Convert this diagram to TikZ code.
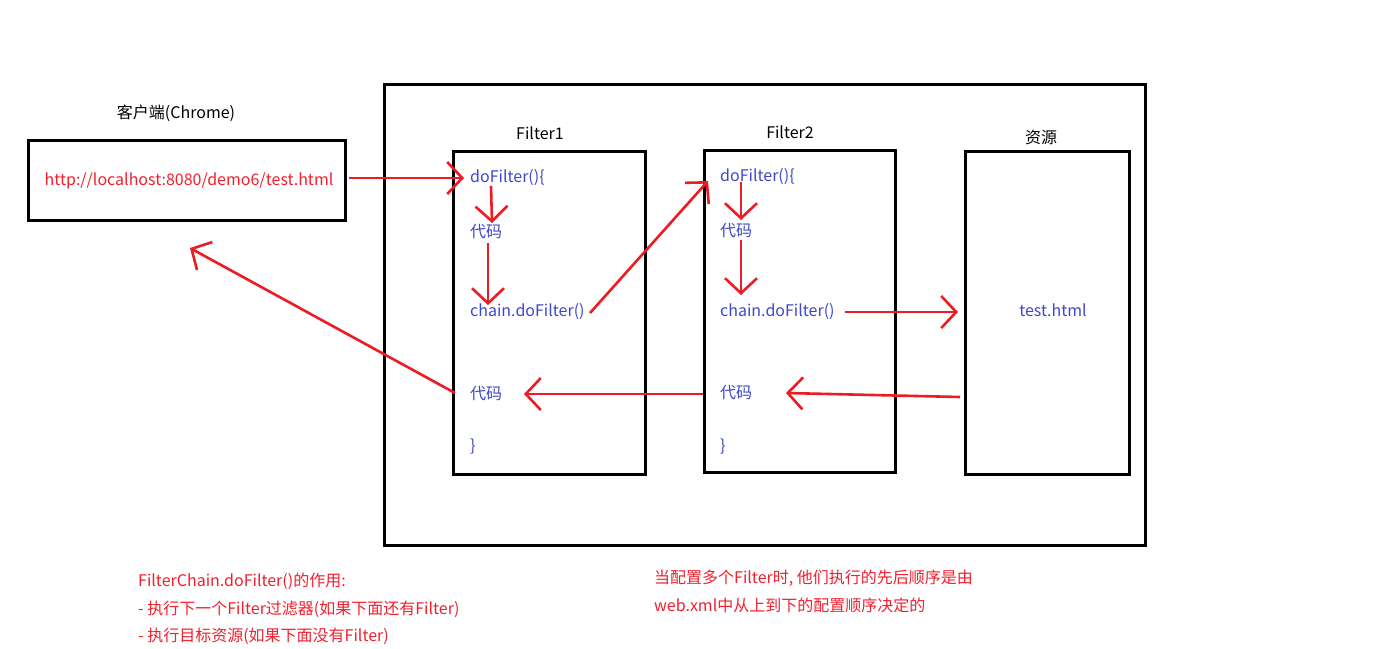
\documentclass[tikz,border=0pt]{standalone}
\usepackage{fontspec}
\setmainfont{Noto Sans CJK SC}
\usetikzlibrary{arrows.meta}
\definecolor{pred}{HTML}{ED1C24}
\definecolor{tred}{HTML}{F2202E}
\definecolor{tblue}{HTML}{3F48CC}
\tikzset{
  box/.style={draw=black, line width=3pt},
  code/.style={anchor=west, inner sep=0pt, text=tblue, font=\fontsize{16}{19}\selectfont},
  lbl/.style={inner sep=0pt, text=black, font=\fontsize{16}{19}\selectfont},
  note/.style={anchor=west, inner sep=0pt, text=tred, font=\fontsize{16}{19}\selectfont},
  arr/.style={draw=pred, line width=2.6pt, -{Straight Barb[length=15pt,width=32pt,line width=2.6pt]}},
}
\begin{document}
\begin{tikzpicture}[x=1pt,y=-1pt]
\useasboundingbox (0,0) rectangle (1381,648);
\fill[white] (0,0) rectangle (1381,648);
% boxes
\draw[box] (384,84) rectangle (1145,545);
\draw[box] (28,140) rectangle (345,220);
\draw[box] (453,151) rectangle (645,474);
\draw[box] (704,150) rectangle (895,472);
\draw[box] (965,151) rectangle (1129,474);
% titles
\node[lbl] (client) at (176,113) {客户端(Chrome)};
\node[lbl] (f1) at (540,133) {Filter1};
\node[lbl] (f2) at (790,132) {Filter2};
\node[lbl] (res) at (1041,137) {资源};
\node[inner sep=0pt, text=tred, font=\fontsize{16}{19}\selectfont] (url) at (189,181) {http://localhost:8080/demo6/test.html};
% filter1 code
\node[code] (a1) at (470,178) {doFilter()\{};
\node[code] (a2) at (470,232) {代码};
\node[code] (a3) at (470,312) {chain.doFilter()};
\node[code] (a4) at (470,394) {代码};
\node[code] (a5) at (470,447) {\}};
% filter2 code
\node[code] (b1) at (720,177) {doFilter()\{};
\node[code] (b2) at (720,231) {代码};
\node[code] (b3) at (720,312) {chain.doFilter()};
\node[code] (b4) at (720,393) {代码};
\node[code] (b5) at (720,447) {\}};
\node[inner sep=0pt, text=tblue, font=\fontsize{16}{19}\selectfont] (page) at (1053,310) {test.html};
% notes
\node[note] (n1) at (138,581) {FilterChain.doFilter()的作用:};
\node[note] (n2) at (138,609) {- 执行下一个Filter过滤器(如果下面还有Filter)};
\node[note] (n3) at (138,636) {- 执行目标资源(如果下面没有Filter)};
\node[note] (m1) at (654,578) {当配置多个Filter时, 他们执行的先后顺序是由};
\node[note] (m2) at (654,605) {web.xml中从上到下的配置顺序决定的};
% arrow end points
\coordinate (p1s) at (349,178); \coordinate (p1e) at (464,178);
\coordinate (p2s) at (491,186); \coordinate (p2e) at (492,223);
\coordinate (p3s) at (488,243); \coordinate (p3e) at (488,305);
\coordinate (p4s) at (590,313); \coordinate (p4e) at (708,181);
\coordinate (p5s) at (741,182); \coordinate (p5e) at (741,220);
\coordinate (p6s) at (741,240); \coordinate (p6e) at (741,295);
\coordinate (p7s) at (845,312); \coordinate (p7e) at (958,312);
\coordinate (p8s) at (960,397); \coordinate (p8e) at (786,393);
\coordinate (p9s) at (703,394); \coordinate (p9e) at (524,394);
\coordinate (p10s) at (455,393); \coordinate (p10e) at (190,248);
\draw[arr] (p1s) -- (p1e);
\draw[arr] (p2s) -- (p2e);
\draw[arr] (p3s) -- (p3e);
\draw[arr] (p4s) -- (p4e);
\draw[arr] (p5s) -- (p5e);
\draw[arr] (p6s) -- (p6e);
\draw[arr] (p7s) -- (p7e);
\draw[arr] (p8s) -- (p8e);
\draw[arr] (p9s) -- (p9e);
\draw[arr] (p10s) -- (p10e);
\end{tikzpicture}
\end{document}
